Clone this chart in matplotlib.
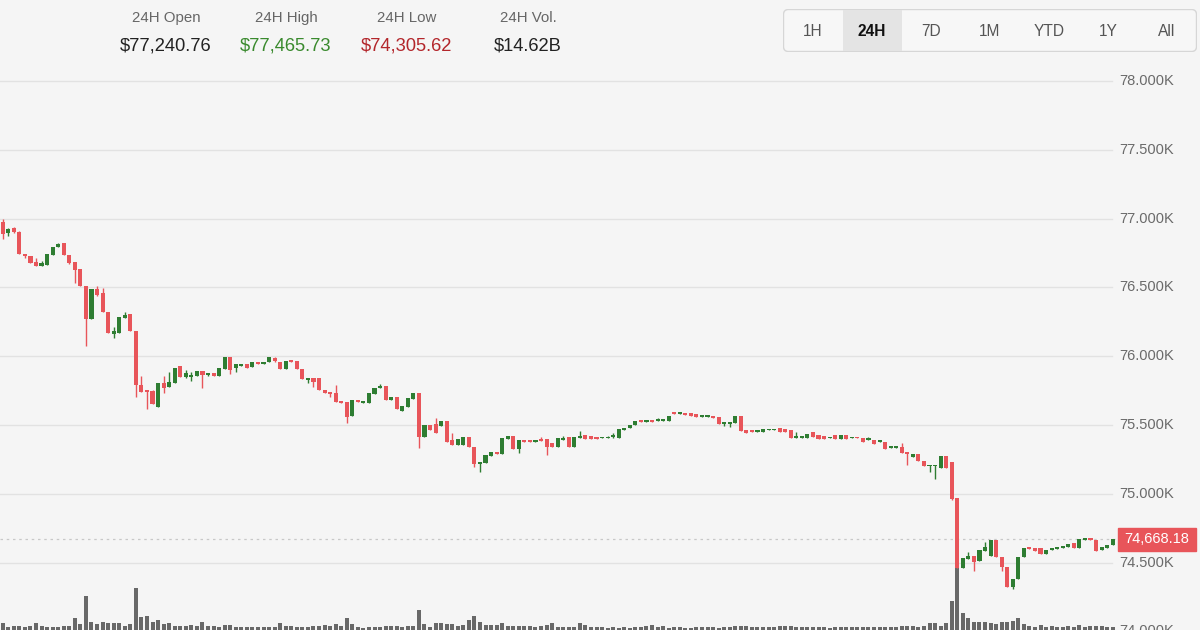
import matplotlib
matplotlib.use("Agg")
import matplotlib.pyplot as plt
import matplotlib.transforms as mtransforms
from matplotlib.patches import FancyBboxPatch, Rectangle

plt.rcParams['font.family'] = ['Liberation Sans', 'DejaVu Sans']

# header stats
stat_labels = ['24H Open', '24H High', '24H Low', '24H Vol.']
stat_values = ['$77,240.76', '$77,465.73', '$74,305.62', '$14.62B']
ranges = ['1H', '24H', '7D', '1M', 'YTD', '1Y', 'All']
active_range = '24H'

# price axis levels
levels = [74000, 74500, 75000, 75500, 76000, 76500, 77000, 77500, 78000]
level_labels = ['74.000K', '74.500K', '75.000K', '75.500K', '76.000K',
                '76.500K', '77.000K', '77.500K', '78.000K']
last_price = 74668.18

# candles
opens = [
    76975, 76896, 76933, 76903, 76743, 76728, 76685, 76656, 76664, 76736,
    76794, 76823, 76736, 76685, 76634, 76510, 76271, 76489, 76460, 76321,
    76162, 76169, 76278, 76307, 76184, 75792, 75748, 75748, 75631, 75806,
    75777, 75806, 75929, 75849, 75849, 75857, 75893, 75864, 75878, 75857,
    75908, 75995, 75915, 75929, 75944, 75922, 75958, 75944, 75958, 75988,
    75958, 75908, 75973, 75966, 75908, 75828, 75842, 75842, 75755, 75733,
    75733, 75675, 75668, 75566, 75682, 75660, 75660, 75726, 75770, 75784,
    75682, 75704, 75602, 75631, 75690, 75733, 75413, 75501, 75508, 75493,
    75530, 75392, 75355, 75355, 75413, 75341, 75217, 75224, 75275, 75304,
    75290, 75399, 75421, 75326, 75392, 75392, 75377, 75399, 75399, 75370,
    75341, 75392, 75413, 75341, 75406, 75428, 75421, 75413, 75406, 75406,
    75413, 75406, 75464, 75479, 75501, 75530, 75522, 75537, 75530, 75530,
    75530, 75588, 75581, 75588, 75588, 75581, 75559, 75559, 75566, 75559,
    75508, 75508, 75515, 75566, 75464, 75457, 75450, 75450, 75464, 75464,
    75479, 75471, 75464, 75406, 75406, 75406, 75450, 75428, 75421, 75406,
    75428, 75399, 75428, 75406, 75413, 75406, 75392, 75392, 75377, 75377,
    75334, 75334, 75341, 75297, 75268, 75290, 75239, 75202, 75202, 75188,
    75275, 75232, 74970, 74461, 74526, 74548, 74512, 74584, 74548, 74665,
    74541, 74468, 74325, 74381, 74541, 74613, 74606, 74606, 74563, 74592,
    74599, 74606, 74613, 74643, 74606, 74665, 74679, 74665, 74592, 74606,
    74628]
highs = [
    76998, 76933, 76940, 76911, 76743, 76728, 76714, 76693, 76743, 76794,
    76823, 76823, 76736, 76685, 76634, 76510, 76489, 76510, 76496, 76321,
    76213, 76286, 76321, 76307, 76184, 75857, 75748, 75755, 75806, 75857,
    75886, 75915, 75929, 75900, 75886, 75893, 75893, 75878, 75878, 75915,
    75995, 75995, 75944, 75944, 75944, 75958, 75958, 75958, 75995, 75995,
    75958, 75966, 75973, 75966, 75908, 75842, 75842, 75842, 75755, 75733,
    75792, 75675, 75668, 75682, 75682, 75675, 75733, 75770, 75799, 75784,
    75704, 75704, 75639, 75697, 75733, 75733, 75501, 75501, 75552, 75530,
    75530, 75442, 75399, 75413, 75413, 75341, 75232, 75282, 75304, 75304,
    75406, 75421, 75421, 75392, 75392, 75392, 75392, 75413, 75399, 75370,
    75406, 75421, 75413, 75413, 75457, 75428, 75421, 75413, 75413, 75421,
    75442, 75471, 75479, 75501, 75530, 75530, 75537, 75537, 75552, 75544,
    75566, 75588, 75588, 75588, 75588, 75581, 75573, 75566, 75566, 75559,
    75515, 75515, 75566, 75566, 75464, 75457, 75464, 75471, 75471, 75471,
    75479, 75471, 75464, 75450, 75421, 75435, 75450, 75428, 75421, 75413,
    75428, 75428, 75428, 75413, 75413, 75406, 75413, 75392, 75384, 75377,
    75341, 75341, 75370, 75297, 75290, 75290, 75239, 75210, 75210, 75275,
    75275, 75232, 74970, 74534, 74577, 74548, 74592, 74650, 74665, 74665,
    74541, 74468, 74381, 74541, 74606, 74613, 74606, 74606, 74592, 74606,
    74613, 74621, 74635, 74643, 74672, 74679, 74679, 74665, 74613, 74628,
    74668]
lows = [
    76852, 76874, 76896, 76743, 76714, 76678, 76656, 76656, 76664, 76736,
    76794, 76736, 76671, 76532, 76510, 76074, 76271, 76438, 76321, 76169,
    76133, 76169, 76278, 76184, 75704, 75740, 75617, 75653, 75631, 75733,
    75777, 75806, 75849, 75842, 75820, 75857, 75770, 75857, 75857, 75857,
    75908, 75871, 75886, 75929, 75915, 75922, 75944, 75944, 75958, 75958,
    75908, 75908, 75958, 75908, 75835, 75806, 75777, 75755, 75733, 75704,
    75668, 75660, 75515, 75566, 75668, 75660, 75660, 75726, 75770, 75682,
    75682, 75617, 75602, 75631, 75690, 75334, 75413, 75464, 75442, 75493,
    75377, 75355, 75355, 75355, 75341, 75195, 75159, 75224, 75275, 75290,
    75290, 75399, 75326, 75297, 75377, 75377, 75377, 75384, 75282, 75341,
    75341, 75392, 75341, 75341, 75406, 75399, 75399, 75399, 75406, 75406,
    75406, 75406, 75464, 75479, 75501, 75522, 75522, 75522, 75530, 75530,
    75530, 75581, 75581, 75573, 75566, 75559, 75559, 75559, 75552, 75508,
    75493, 75486, 75515, 75457, 75442, 75450, 75450, 75450, 75464, 75464,
    75450, 75450, 75406, 75406, 75406, 75406, 75413, 75399, 75399, 75406,
    75399, 75399, 75399, 75406, 75406, 75377, 75392, 75363, 75377, 75326,
    75334, 75334, 75297, 75210, 75268, 75239, 75202, 75159, 75108, 75188,
    75188, 74956, 74461, 74461, 74526, 74439, 74512, 74584, 74548, 74541,
    74439, 74325, 74306, 74381, 74541, 74599, 74584, 74563, 74563, 74592,
    74599, 74606, 74613, 74606, 74606, 74665, 74665, 74584, 74592, 74606,
    74628]
closes = [
    76889, 76925, 76903, 76743, 76728, 76678, 76656, 76678, 76743, 76794,
    76816, 76736, 76678, 76627, 76510, 76271, 76489, 76446, 76321, 76169,
    76184, 76286, 76300, 76184, 75792, 75740, 75740, 75653, 75806, 75770,
    75813, 75915, 75849, 75878, 75864, 75893, 75864, 75878, 75857, 75915,
    75995, 75900, 75944, 75944, 75915, 75958, 75944, 75958, 75995, 75966,
    75908, 75966, 75958, 75908, 75835, 75842, 75813, 75755, 75733, 75726,
    75668, 75660, 75559, 75682, 75668, 75675, 75733, 75770, 75784, 75682,
    75704, 75617, 75639, 75697, 75733, 75413, 75501, 75464, 75442, 75530,
    75377, 75355, 75399, 75413, 75341, 75217, 75232, 75282, 75304, 75290,
    75406, 75421, 75326, 75392, 75377, 75377, 75392, 75384, 75341, 75341,
    75406, 75406, 75341, 75413, 75421, 75399, 75399, 75399, 75413, 75413,
    75428, 75471, 75479, 75501, 75530, 75522, 75537, 75522, 75537, 75544,
    75566, 75581, 75588, 75573, 75566, 75559, 75573, 75566, 75552, 75508,
    75515, 75515, 75566, 75457, 75442, 75450, 75464, 75471, 75471, 75471,
    75450, 75450, 75406, 75421, 75421, 75435, 75413, 75399, 75399, 75413,
    75399, 75428, 75399, 75413, 75406, 75377, 75406, 75363, 75384, 75326,
    75341, 75341, 75297, 75290, 75290, 75239, 75202, 75210, 75210, 75275,
    75188, 74963, 74461, 74534, 74548, 74504, 74592, 74613, 74665, 74541,
    74468, 74325, 74381, 74541, 74606, 74599, 74584, 74563, 74592, 74606,
    74613, 74621, 74635, 74606, 74672, 74679, 74665, 74584, 74613, 74628,
    74668.18]
volumes = [
    69, 30, 45, 39, 30, 36, 75, 39, 30, 30,
    27, 39, 45, 120, 60, 339, 84, 60, 84, 66,
    66, 66, 45, 60, 420, 135, 141, 84, 99, 60,
    69, 45, 45, 45, 51, 39, 84, 45, 39, 30,
    54, 54, 30, 27, 27, 30, 30, 27, 30, 30,
    69, 39, 39, 27, 30, 30, 39, 39, 51, 45,
    60, 39, 120, 60, 27, 24, 30, 30, 30, 39,
    39, 39, 30, 45, 39, 201, 60, 30, 75, 75,
    60, 60, 45, 54, 99, 141, 84, 54, 54, 54,
    75, 39, 45, 39, 39, 39, 30, 39, 51, 66,
    30, 30, 30, 30, 69, 51, 27, 27, 27, 24,
    27, 24, 27, 24, 27, 27, 45, 54, 30, 45,
    24, 27, 30, 24, 24, 27, 30, 27, 27, 24,
    30, 30, 39, 45, 36, 33, 30, 30, 27, 30,
    39, 36, 36, 30, 27, 27, 30, 30, 27, 24,
    30, 27, 30, 27, 27, 30, 27, 30, 27, 30,
    27, 33, 36, 45, 39, 30, 45, 75, 70, 45,
    70, 290, 620, 170, 120, 85, 85, 80, 75, 65,
    80, 85, 95, 120, 60, 40, 33, 51, 33, 45,
    33, 27, 39, 33, 51, 33, 45, 39, 45, 33,
    33]

up_color = '#2e7d32'
down_color = '#e8555a'
bg = '#f5f5f5'

W, H = 1200, 630
fig = plt.figure(figsize=(12, 6.3), dpi=100, facecolor=bg)

# main price axes: candle i sits at x = 2.7 + 5.55*i px, 500 USD = 68.8 px
ax = fig.add_axes([0, 0, 1116 / W, 1])
ax.set_facecolor('none')
ax.set_xlim(-0.486, 200.6)
ax.set_ylim(74010.4, 78588.6)
ax.axis('off')

n = len(closes)
xs = list(range(n))

for lv in levels:
    ax.axhline(lv, xmin=0, xmax=1112 / 1116, color='#e2e2e2', lw=1, zorder=0)

# volume bars on a second axes laid over the first
vax = fig.add_axes([0, 0, 1116 / W, 1], sharex=ax)
vax.set_facecolor('none')
vax.set_ylim(0, 6300)
vax.axis('off')
vax.bar(xs, volumes, width=0.72, color='#686868', zorder=1)
ax.set_zorder(vax.get_zorder() + 1)

# candles
min_body = 14
for i in xs:
    o, h, l, c = opens[i], highs[i], lows[i], closes[i]
    col = up_color if c >= o else down_color
    ax.vlines(i, l, h, color=col, lw=1, zorder=2)
    body = abs(c - o)
    bottom = min(o, c)
    if body < min_body:
        bottom -= (min_body - body) / 2
        body = min_body
    ax.bar(i, body, bottom=bottom, width=0.74, color=col, zorder=3)

# last price line + tag
ax.axhline(last_price, xmin=0, xmax=1.0, color='#c8c8c8', lw=0.9,
           ls=(0, (2, 3)), zorder=1)
blend = mtransforms.blended_transform_factory(ax.transAxes, ax.transData)
ax.add_patch(Rectangle((1118 / 1116, last_price - 83.6), 78 / 1116, 167.2,
                       transform=blend, color=down_color, clip_on=False, zorder=5))
ax.text(1157 / 1116, last_price, f'{last_price:,.2f}', transform=blend,
        ha='center', va='center', color='white', fontsize=10.5,
        clip_on=False, zorder=6)

# price labels (74.000K sits half below the bottom edge, as in the source)
for lv, lab in zip(levels, level_labels):
    ax.text(1119 / 1116, lv, lab, transform=blend, ha='left', va='center',
            color='#6a6a6a', fontsize=10.5, clip_on=False, zorder=4)

# header stats
stat_x = [166, 286, 407, 528]
stat_colors = ['#222222', '#3a8a2e', '#b3262b', '#222222']
for x, lab, val, col in zip(stat_x, stat_labels, stat_values, stat_colors):
    fig.text(x / W, 1 - 18 / H, lab, ha='center', va='center',
             color='#666666', fontsize=10.8)
    fig.text(x / W, 1 - 46 / H, val, ha='center', va='center',
             color=col, fontsize=13.2)

# range selector
bax = fig.add_axes([783 / W, 1 - 52 / H, 414 / W, 43 / H])
bax.set_xlim(0, 414)
bax.set_ylim(43, 0)
bax.axis('off')
bax.add_patch(FancyBboxPatch((0.5, 0.5), 413, 42,
                             boxstyle='round,pad=0,rounding_size=5',
                             fc='#f7f7f7', ec='#d6d6d6', lw=1))
for k, r in enumerate(ranges):
    cx = 30 + 59 * k
    if r == active_range:
        bax.add_patch(Rectangle((cx - 29.5, 1), 59, 41, fc='#e4e4e4', ec='none'))
        bax.text(cx, 22, r, ha='center', va='center', fontsize=11.2,
                 fontweight='bold', color='#111111')
    else:
        bax.text(cx, 22, r, ha='center', va='center', fontsize=11.2,
                 color='#555555')

fig.savefig('out.png', dpi=100, facecolor=bg)
